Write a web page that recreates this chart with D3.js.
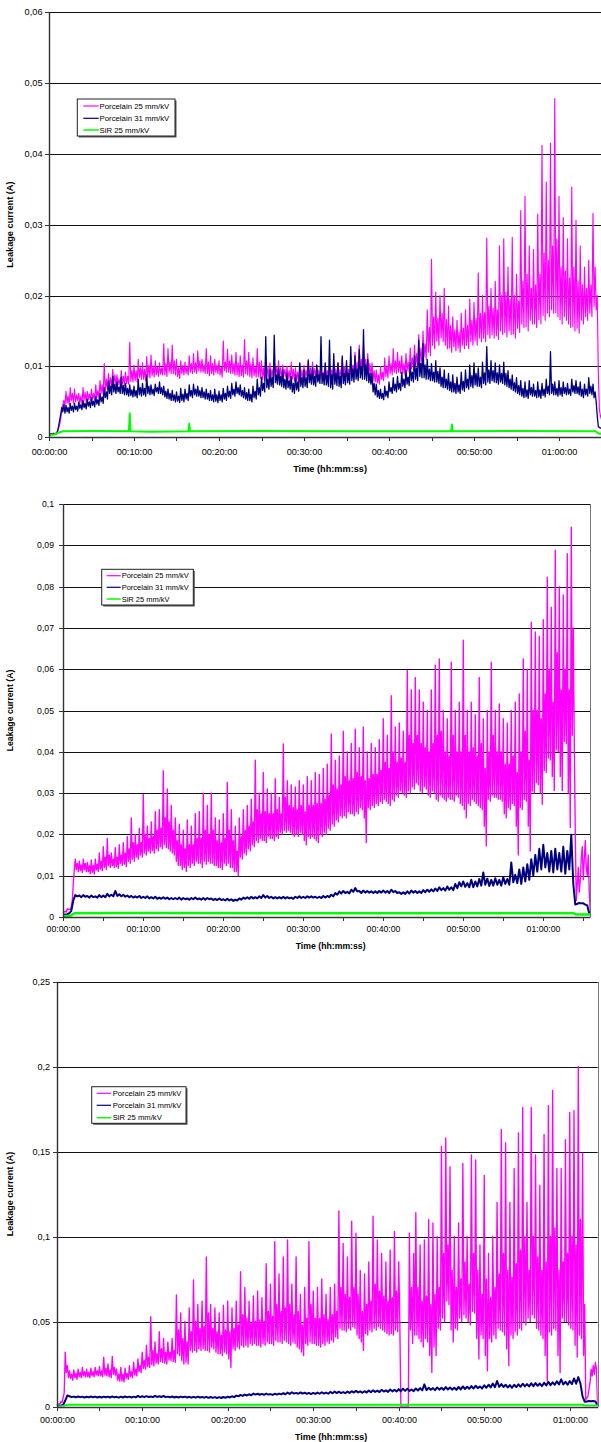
<!DOCTYPE html>
<html>
<head>
<meta charset="utf-8">
<script src="https://cdn.jsdelivr.net/npm/d3@7"></script>
<style>
  body { margin: 0; background: #fff; }
  svg { display: block; font-family: "Liberation Sans", Arial, sans-serif; }
</style>
</head>
<body>
<svg id="chart" width="601" height="1442"></svg>
<script>
// ---------------------------------------------------------------
// Leakage current of three insulators during three test runs.
// Porcelain traces are evenly sampled (values in mA);
// the SiR trace is given as [minute, mA] breakpoints.
// ---------------------------------------------------------------
const seriesNames  = ["Porcelain 25 mm/kV", "Porcelain 31 mm/kV", "SiR 25 mm/kV"];
const seriesColors = ["#ff00ff", "#000080", "#00ff00"];
const fineStep = 0.125;  // minutes between samples (7.5 s)
const coarseStep = 0.25; // minutes between samples (15 s)

const xTickLabels = ["00:00:00", "00:10:00", "00:20:00", "00:30:00", "00:40:00", "00:50:00", "01:00:00"];

const yTicks1  = [0, 0.01, 0.02, 0.03, 0.04, 0.05, 0.06];
const yLabels1 = ["0", "0,01", "0,02", "0,03", "0,04", "0,05", "0,06"];
const yTicks2  = [0, 0.01, 0.02, 0.03, 0.04, 0.05, 0.06, 0.07, 0.08, 0.09, 0.1];
const yLabels2 = ["0", "0,01", "0,02", "0,03", "0,04", "0,05", "0,06", "0,07", "0,08", "0,09", "0,1"];
const yTicks3  = [0, 0.05, 0.1, 0.15, 0.2, 0.25];
const yLabels3 = ["0", "0,05", "0,1", "0,15", "0,2", "0,25"];

// ---- run 1 (7.5 s samples, one line per 2 minutes) ----
const p1Porcelain25 = [
  0.5,0.4,0.5,0.4,0.6,0.5,0.6,0.5, 0.8,1.2,1.8,2.5,3.8,4.6,5.2,4.4,
  6.5,4.8,5.8,4.6,7.0,5.2,6.2,4.8, 6.8,5.0,6.0,5.2,6.2,4.8,5.8,4.7,
  7.0,5.2,6.3,5.0,6.5,5.3,6.1,5.2, 6.8,5.4,6.2,5.2,7.4,5.6,6.6,5.5,
  8.0,6.2,7.4,6.0,10.4,6.5,8.2,6.8, 9.0,7.2,8.4,7.0,9.6,7.6,8.8,7.4,
  8.8,7.4,8.2,7.2,9.4,7.5,8.6,7.3, 9.2,7.6,8.6,7.5,13.4,7.9,9.4,7.8,
  10.2,8.0,9.4,7.8,11.0,8.4,9.8,8.2, 10.5,8.2,9.6,8.0,11.4,8.5,10.2,8.4,
  11.6,8.7,10.0,8.5,10.8,8.8,9.9,8.6, 10.5,8.9,9.8,8.8,13.2,8.8,10.4,8.6,
  12.5,9.2,10.6,9.0,13.0,9.0,10.8,8.8, 11.0,8.6,9.8,8.3,10.8,9.0,10.2,8.8,
  10.6,9.0,10.0,8.8,11.5,9.2,10.4,9.0, 11.8,9.2,10.5,9.0,12.2,9.4,10.8,9.2,
  11.0,9.2,10.2,9.0,12.5,9.0,10.6,8.7, 11.5,9.0,10.4,8.8,11.0,9.2,10.2,9.0,
  10.8,8.8,9.9,8.5,13.6,9.4,10.6,9.2, 12.4,9.2,10.8,9.0,11.6,9.0,10.4,8.8,
  12.0,8.8,10.5,8.6,11.5,8.7,10.2,8.5, 13.8,9.0,10.8,8.8,12.0,8.6,10.4,8.4,
  11.2,8.7,10.0,8.5,12.5,8.5,10.6,8.3, 10.8,8.2,9.8,8.0,11.5,8.4,10.0,8.2,
  10.5,8.4,9.6,8.2,11.0,8.7,9.9,8.5, 10.8,8.5,9.8,8.3,10.2,8.6,9.6,8.4,
  10.0,8.2,9.4,8.0,10.6,8.2,9.6,8.0, 9.8,8.0,9.2,7.8,10.4,8.2,9.5,8.0,
  10.2,8.4,9.5,8.2,11.0,8.5,9.8,8.3, 10.6,8.6,9.7,8.4,10.2,8.4,9.5,8.2,
  9.8,8.2,9.2,8.0,10.4,8.1,9.4,7.9, 10.2,8.3,9.5,8.1,10.8,8.5,9.7,8.3,
  10.5,8.2,9.6,8.0,11.2,8.6,10.0,8.4, 10.2,8.4,9.6,8.2,11.5,8.7,10.2,8.5,
  12.0,9.0,10.6,8.8,13.0,9.2,11.0,9.0, 12.8,9.2,11.0,9.0,11.8,8.8,10.4,8.5,
  10.5,8.0,9.4,7.8,9.5,7.7,8.8,7.5, 10.0,8.2,9.2,8.0,11.2,8.6,10.0,8.4,
  11.5,9.0,10.4,8.8,12.5,9.2,10.8,9.0, 12.0,9.2,10.8,9.0,11.5,9.0,10.4,8.8,
  11.8,9.4,10.6,9.2,12.6,9.7,11.2,9.5, 13.0,10.0,11.8,9.8,14.5,10.4,12.6,10.2,
  15.0,11.4,13.2,11.0,18.0,12.0,15.5,11.5, 25.1,13.0,17.0,12.5,20.5,13.6,16.8,13.0,
  20.0,14.0,17.5,13.5,21.0,13.0,16.6,12.5, 18.5,12.6,15.8,12.0,17.0,12.8,15.2,12.2,
  16.5,12.6,14.8,12.0,17.5,13.0,15.4,12.5, 18.0,13.0,15.8,12.5,19.5,13.5,16.5,13.0,
  19.0,13.6,16.8,13.0,23.2,14.0,17.5,13.5, 20.0,14.0,17.6,13.5,28.1,14.5,18.5,14.0,
  21.0,14.5,18.2,14.0,22.0,14.3,18.0,13.8, 27.0,15.0,20.0,14.5,28.0,14.8,20.5,14.2,
  24.0,15.0,19.5,14.5,28.2,14.6,20.0,14.0, 23.0,15.4,19.2,14.8,32.0,16.0,22.0,15.5,
  34.0,15.6,23.0,15.0,27.0,16.5,21.0,16.0, 26.5,16.0,21.5,15.5,31.5,16.6,23.0,16.0,
  41.2,17.2,26.0,16.5,36.0,17.5,25.0,17.0, 41.5,18.0,27.0,17.5,47.8,17.6,28.0,17.0,
  34.0,16.6,24.0,16.0,31.0,17.0,23.5,16.5, 28.0,16.0,22.5,15.5,35.3,15.6,24.0,15.0,
  30.6,15.4,22.0,14.7,27.0,16.5,21.5,16.0, 24.0,17.0,21.0,16.5,25.0,17.5,21.5,17.0,
  31.6,18.5,24.0,18.0,20.0,9.0,4.0,3.0, 2.5
];
const p1Porcelain31 = [
  0.5,0.4,0.5,0.4,0.5,0.5,0.5,0.5, 0.9,1.5,2.4,3.2,4.2,3.6,4.6,3.4,
  4.5,3.6,4.2,3.4,4.8,3.8,4.4,3.6, 4.8,3.9,4.4,3.7,5.0,4.1,4.6,3.9,
  5.2,4.2,4.8,4.0,5.4,4.4,5.0,4.2, 5.6,4.5,5.1,4.3,5.8,4.7,5.3,4.5,
  6.2,5.0,5.7,4.8,7.0,5.6,6.4,5.4, 8.0,6.2,7.2,6.0,8.6,6.4,7.5,6.2,
  7.8,6.4,7.1,6.2,8.5,6.2,7.3,6.0, 7.6,6.0,6.9,5.8,7.4,5.9,6.7,5.7,
  7.2,5.8,6.6,5.6,8.2,6.0,7.0,5.8, 7.6,6.0,6.9,5.8,8.8,6.2,7.2,6.0,
  7.4,6.1,6.8,5.9,7.5,6.4,7.0,6.2, 7.8,6.2,7.0,6.0,7.2,5.7,6.5,5.5,
  6.8,5.4,6.2,5.2,6.6,5.2,6.0,5.0, 6.4,5.1,5.8,4.9,6.9,5.2,6.1,5.0,
  6.8,5.4,6.2,5.2,7.4,5.8,6.6,5.6, 7.5,6.0,6.8,5.8,7.2,5.8,6.6,5.6,
  7.0,5.6,6.4,5.4,6.8,5.4,6.2,5.2, 6.6,5.2,6.0,5.0,6.8,5.1,6.0,4.9,
  6.5,5.2,6.0,5.0,6.9,5.4,6.2,5.2, 7.2,5.7,6.5,5.5,7.6,6.0,6.8,5.8,
  7.8,6.2,7.0,6.0,7.4,5.8,6.6,5.6, 7.0,5.4,6.3,5.2,6.8,5.2,6.1,5.0,
  7.2,5.6,6.5,5.4,8.2,6.0,7.0,5.8, 8.5,6.6,7.6,6.4,14.2,7.0,8.2,6.8,
  9.5,7.2,8.4,7.0,14.4,7.7,8.8,7.5, 9.8,7.4,8.6,7.2,9.5,7.0,8.2,6.8,
  9.0,7.0,8.0,6.8,8.6,6.4,7.6,6.2, 8.8,6.7,7.8,6.5,10.5,7.2,8.4,7.0,
  9.5,7.2,8.4,7.0,10.8,7.7,8.9,7.5, 9.8,7.4,8.6,7.2,10.2,7.8,8.8,7.6,
  14.2,7.6,9.0,7.4,10.5,7.4,8.7,7.2, 13.7,7.0,8.8,6.8,11.8,7.5,9.0,7.3,
  10.5,7.2,8.6,7.0,11.5,7.6,9.0,7.4, 10.8,7.7,9.0,7.5,12.8,8.0,9.6,7.8,
  11.5,8.2,9.6,8.0,12.4,8.4,10.0,8.2, 15.2,8.2,10.2,8.0,11.0,7.7,9.0,7.5,
  9.0,6.4,7.6,6.0,7.5,5.7,6.6,5.5, 6.8,5.5,6.2,5.3,7.2,5.8,6.5,5.6,
  7.8,6.4,7.0,6.2,8.4,6.6,7.5,6.4, 8.6,6.8,7.6,6.6,9.2,7.2,8.2,7.0,
  9.5,7.5,8.5,7.3,10.5,8.0,9.2,7.8, 11.5,8.2,9.8,8.0,13.7,8.6,10.4,8.4,
  13.2,8.4,10.2,8.2,11.0,8.2,9.6,8.0, 10.4,8.0,9.2,7.8,10.8,7.8,9.3,7.6,
  9.8,7.2,8.5,7.0,9.5,7.0,8.2,6.8, 9.0,6.6,7.8,6.4,8.8,6.4,7.6,6.2,
  8.5,6.4,7.4,6.2,9.2,6.7,7.9,6.5, 9.5,7.0,8.2,6.8,10.2,7.2,8.7,7.0,
  10.5,7.4,9.0,7.2,9.8,7.2,8.5,7.0, 10.6,7.6,9.1,7.4,12.8,7.8,9.5,7.6,
  10.8,8.0,9.4,7.8,10.5,7.7,9.1,7.5, 10.2,7.8,9.0,7.6,10.6,7.4,9.0,7.2,
  9.4,7.0,8.2,6.8,8.8,6.6,7.7,6.4, 8.4,6.2,7.3,6.0,8.0,5.8,6.9,5.6,
  7.8,5.7,6.7,5.5,8.0,6.0,7.0,5.8, 7.5,5.8,6.6,5.6,7.8,5.7,6.7,5.5,
  7.6,5.9,6.8,5.7,8.2,6.2,7.2,6.0, 12.1,6.2,7.5,6.0,7.8,6.0,6.9,5.8,
  8.0,6.0,7.0,5.8,7.8,6.2,7.0,6.0, 7.6,6.1,6.8,5.9,8.2,6.4,7.3,6.2,
  8.0,6.2,7.1,6.0,7.8,5.8,6.8,5.6, 7.5,6.0,6.8,5.8,8.4,6.2,7.2,6.0,
  7.5,5.6,6.4,5.0,3.0,1.5,1.4,1.3, 1.3
];
const p1SiR25 = [
  [0,0.3],[0.6,0.4],[1.2,0.7],[1.7,0.85],[5,0.9],[9.4,0.85],[9.5,3.4],[9.6,0.85],[12,0.8],
  [16.4,0.85],[16.5,1.9],[16.6,0.85],[25,0.9],[35,0.85],[47.3,0.85],[47.4,1.8],[47.5,0.85],
  [55,0.9],[64.3,0.85],[64.7,0.5],[65.3,0.5]
];

// ---- run 2 ----
const p2Porcelain25 = [
  1.5,1.2,1.4,1.2,2.0,1.8,1.9,1.8, 2.5,4.0,8.0,11.5,14.0,11.5,13.0,11.0,
  13.5,11.2,12.6,10.8,14.0,11.5,13.0,11.0, 13.2,11.0,12.4,10.5,13.8,10.8,12.5,10.4,
  14.0,11.4,12.8,11.0,15.5,11.6,13.5,11.2, 17.0,12.0,14.5,11.5,19.0,12.5,15.0,12.0,
  15.5,12.4,14.0,12.0,16.8,12.2,14.5,11.8, 17.5,13.0,15.0,12.5,18.0,12.8,15.5,12.2,
  19.5,13.5,16.5,13.0,24.0,14.0,18.0,13.5, 20.0,14.5,17.5,14.0,21.5,15.0,18.0,14.5,
  29.7,15.5,20.0,15.0,22.0,16.0,19.0,15.5, 23.0,16.0,19.5,15.5,25.5,16.5,21.0,16.0,
  26.0,17.0,21.5,16.5,35.4,17.5,24.0,16.8, 31.0,16.5,23.0,16.0,27.0,15.5,21.0,15.0,
  24.0,13.5,18.5,12.5,22.5,12.5,17.5,11.5, 21.0,12.0,16.5,11.0,23.5,12.5,17.5,12.0,
  22.0,13.0,17.5,12.5,25.0,13.5,19.0,13.0, 25.5,13.0,19.0,12.0,30.0,13.5,21.0,12.8,
  27.0,13.5,20.0,13.0,30.0,13.0,21.0,12.5, 24.0,12.5,18.5,12.0,23.5,12.0,18.0,11.5,
  25.0,13.0,19.0,12.5,32.6,13.0,21.0,12.0, 26.0,12.0,18.5,11.0,22.0,11.0,16.0,10.0,
  24.0,14.5,19.5,14.0,26.0,15.5,21.0,15.0, 27.0,16.5,22.0,16.0,28.5,17.5,23.0,17.0,
  38.0,18.5,26.0,18.0,30.0,19.0,25.0,18.5, 35.0,18.5,25.5,18.0,31.0,19.5,25.0,19.0,
  30.0,19.0,25.0,18.5,33.5,19.5,26.0,19.0, 29.0,20.5,25.0,20.0,41.9,21.0,29.0,20.5,
  33.0,21.0,27.0,20.5,32.0,20.0,26.5,19.5, 31.5,20.0,26.0,19.5,33.0,20.5,27.0,20.0,
  32.0,18.5,25.5,17.5,34.0,19.5,27.0,19.0, 33.0,19.5,27.0,19.0,35.0,18.5,27.5,18.0,
  34.5,20.0,27.5,19.5,36.0,20.5,28.5,20.0, 37.0,21.5,29.5,21.0,44.3,22.5,32.0,22.0,
  38.0,23.5,31.0,23.0,39.0,24.5,32.0,24.0, 45.0,24.5,34.0,24.0,40.0,25.5,33.0,25.0,
  42.0,25.0,33.5,24.5,45.5,25.5,35.0,25.0, 41.0,26.5,34.0,26.0,46.0,24.0,33.0,18.0,
  40.0,26.5,33.5,26.0,42.0,27.0,34.5,26.5, 41.0,27.5,34.5,27.0,43.0,28.0,35.5,27.5,
  48.0,28.5,37.5,28.0,44.0,27.5,36.0,27.0, 53.6,28.5,40.0,28.0,46.0,29.5,37.5,29.0,
  47.0,30.5,38.5,30.0,45.0,29.5,37.5,29.0, 59.7,30.5,44.0,30.0,55.0,31.5,42.0,31.0,
  58.0,32.5,44.0,32.0,55.0,30.5,42.0,30.0, 52.0,31.5,41.0,31.0,50.0,29.5,40.0,29.0,
  55.0,30.5,42.0,30.0,61.0,28.5,44.0,28.0, 62.5,29.5,45.0,29.0,50.0,28.5,40.0,28.0,
  48.0,29.0,39.0,28.5,61.7,28.5,44.0,28.0, 50.0,29.5,40.0,29.0,52.0,27.5,40.0,27.0,
  67.0,26.0,44.0,24.0,50.0,27.5,40.0,27.0, 52.0,28.5,41.0,28.0,49.0,27.5,39.0,27.0,
  58.0,26.5,42.0,26.0,48.0,22.0,36.0,17.2, 50.0,28.5,40.0,28.0,61.7,29.5,44.0,29.0,
  50.0,29.0,40.0,28.5,51.6,28.5,40.0,28.0, 48.0,25.0,37.0,24.0,47.0,26.5,37.0,26.0,
  50.0,27.5,39.0,27.0,52.0,22.0,35.0,15.0, 54.0,26.5,40.0,26.0,62.5,28.5,45.0,28.0,
  60.0,22.0,38.0,16.0,71.4,30.5,50.0,30.0, 69.0,32.5,50.0,32.0,68.0,30.0,48.0,27.3,
  72.0,35.5,54.0,35.0,82.3,38.5,60.0,38.0, 75.0,34.0,52.0,30.6,88.8,40.5,64.0,40.0,
  80.0,34.0,55.0,30.6,78.0,42.5,60.0,42.0, 88.0,30.0,55.0,21.7,94.4,44.0,70.0,42.0,
  20.0,4.0,8.0,12.0,6.0,9.0,14.0,17.0, 9.0,14.0,18.5,12.0,10.0,15.0,6.0,1.0
];
const p2Porcelain31 = [
  0.5,0.6,0.7,0.9, 1.5,4.0,5.3,5.0, 5.2,4.8,5.3,4.9, 5.1,4.7,5.2,4.8, 5.0,4.7,5.3,4.8,
  5.2,4.8,5.6,5.0, 5.4,5.0,6.3,5.1, 5.5,5.0,5.4,4.9, 5.2,4.8,5.1,4.7, 5.0,4.7,5.1,4.6,
  4.9,4.6,5.0,4.5, 4.8,4.5,4.9,4.4, 4.7,4.4,4.8,4.4, 4.7,4.3,4.6,4.3, 4.6,4.3,4.7,4.2,
  4.6,4.3,4.5,4.2, 4.6,4.3,4.7,4.3, 4.5,4.2,4.6,4.2, 4.6,4.3,4.5,4.1, 4.4,4.1,4.5,4.1,
  4.3,4.0,4.4,4.0, 4.3,3.9,4.2,4.0, 4.5,4.2,4.7,4.4, 4.8,4.4,4.9,4.5, 4.8,4.5,5.0,4.6,
  5.3,4.7,5.1,4.6, 4.9,4.5,4.8,4.5, 4.8,4.5,4.9,4.5, 4.8,4.5,4.7,4.4, 4.9,4.6,5.0,4.6,
  4.9,4.6,5.0,4.7, 5.0,4.7,4.9,4.6, 4.9,4.6,5.1,4.7, 5.1,4.8,5.4,5.0, 5.8,5.4,6.2,5.7,
  6.3,5.8,6.1,5.7, 6.6,6.1,7.0,6.2, 6.3,5.8,6.4,5.9, 6.3,5.9,6.2,5.8, 6.2,5.8,6.3,5.9,
  6.4,5.9,6.3,5.8, 6.6,6.0,6.3,5.8, 6.0,5.6,6.0,5.6, 6.2,5.7,6.4,5.9, 6.3,5.8,6.2,5.8,
  6.5,6.0,6.6,6.1, 6.7,6.2,6.9,6.3, 7.2,6.5,7.0,6.4, 7.4,6.6,7.2,6.5, 8.0,7.0,8.4,7.4,
  8.6,7.3,8.2,7.2, 9.0,7.2,8.6,7.4, 9.2,7.6,10.8,7.8, 9.3,7.5,9.0,7.6, 9.4,7.8,9.0,7.6,
  9.6,8.0,9.2,7.8, 13.2,8.4,10.2,8.2, 11.5,8.0,12.0,8.6, 12.8,9.0,14.0,10.0, 15.0,11.0,16.5,11.5,
  17.5,12.0,15.5,11.0, 16.0,10.8,16.5,11.5, 15.5,11.0,17.0,10.5, 16.0,11.5,19.9,8.0, 3.0,3.2,3.4,3.3,
  3.3,3.0,2.8,0.8
];
const p2SiR25 = [
  [0,0.2],[0.9,0.3],[1.4,0.9],[10,0.95],[30,0.9],[50,0.9],[63.8,0.9],[64.1,0.6],[66,0.6]
];

// ---- run 3 ----
const p3Porcelain25 = [
  1.0,1.2,1.5,1.5,3.0,2.5,5.0,8.0, 32.0,20.0,24.0,17.0,21.0,16.5,19.0,15.5,
  21.5,17.0,19.5,16.0,22.0,17.5,20.0,17.0, 23.0,18.0,20.5,17.5,22.0,17.5,20.0,17.0,
  22.5,18.0,20.5,17.5,23.0,18.5,21.0,18.0, 23.5,18.0,21.0,17.5,29.0,18.5,22.5,18.0,
  25.0,17.5,21.5,17.0,29.5,19.0,23.0,18.5, 22.0,15.5,19.0,15.0,23.0,15.0,19.0,14.5,
  22.5,16.5,19.5,16.0,24.0,17.5,20.5,17.0, 26.0,18.5,22.0,18.0,28.0,20.5,24.0,20.0,
  32.0,22.5,27.0,22.0,36.0,23.5,29.0,23.0, 52.8,24.5,33.0,24.0,38.0,25.5,31.0,25.0,
  44.0,26.5,34.0,26.0,40.0,25.5,32.0,25.0, 38.0,27.5,32.0,27.0,40.0,26.5,33.0,26.0,
  65.6,31.0,45.0,30.0,55.0,27.0,40.0,25.0, 50.0,26.0,38.0,25.0,58.0,33.0,44.0,32.0,
  74.4,33.0,50.0,32.0,60.0,34.0,46.0,33.0, 62.0,34.0,47.0,33.0,88.0,33.0,55.0,32.0,
  60.0,35.0,46.0,34.0,58.0,32.0,44.0,31.0, 55.0,31.0,42.0,30.0,59.6,32.0,45.0,31.0,
  62.0,28.0,44.0,23.0,58.0,34.0,46.0,33.0, 62.0,35.0,48.0,34.0,79.3,36.0,54.0,35.0,
  70.0,36.0,52.0,35.0,62.0,37.0,49.0,36.0, 65.0,37.0,50.0,36.0,68.0,36.0,51.0,35.0,
  64.0,37.0,50.0,36.0,84.0,38.0,56.0,37.0, 72.0,37.0,53.0,36.0,97.0,39.0,60.0,38.0,
  78.0,38.0,56.0,37.0,88.0,39.0,58.0,38.0, 98.0,37.0,60.0,36.0,72.0,38.0,54.0,37.0,
  88.0,35.0,56.0,34.0,66.0,32.0,48.0,30.0, 70.0,37.0,52.0,36.0,97.0,38.0,60.0,37.0,
  68.0,37.0,52.0,36.0,70.0,36.0,52.0,35.0, 75.0,37.0,54.0,36.0,66.0,38.0,51.0,37.0,
  70.0,39.0,54.0,38.0,72.0,41.0,56.0,40.0, 115.0,46.0,70.0,45.0,96.0,45.0,66.0,44.0,
  88.0,46.0,64.0,45.0,109.0,47.0,70.0,46.0, 102.0,42.0,66.0,40.0,80.0,38.0,56.0,33.0,
  78.0,43.0,60.0,42.0,85.0,45.0,62.0,44.0, 112.0,46.0,72.0,45.0,98.0,47.0,68.0,46.0,
  90.0,45.0,65.0,44.0,85.0,43.0,62.0,42.0, 92.0,43.0,64.0,42.0,103.0,45.0,68.0,44.0,
  85.0,50.0,0.0,0.0,0.0,0.0,0.0,0.0, 0.0,0.0,102.0,45.0,70.0,37.0,90.0,42.0,
  114.0,42.0,70.0,40.0,95.0,38.0,62.0,35.0, 98.0,40.0,65.0,38.0,110.0,30.0,60.0,20.0,
  108.0,35.0,66.0,30.0,100.0,46.0,70.0,45.0, 153.0,52.0,90.0,50.0,158.0,62.0,95.0,60.0,
  141.0,45.0,80.0,38.0,100.0,46.0,70.0,45.0, 108.0,52.0,75.0,50.0,143.0,54.0,85.0,52.0,
  100.0,50.0,72.0,48.0,148.0,56.0,90.0,55.0, 145.0,40.0,80.0,28.0,95.0,42.0,66.0,40.0,
  136.0,30.0,75.0,21.0,90.0,40.0,64.0,38.0, 100.0,42.0,70.0,40.0,120.0,46.0,78.0,45.0,
  163.0,44.0,90.0,42.0,155.0,34.0,80.0,24.0, 120.0,42.0,76.0,40.0,140.0,44.0,84.0,42.0,
  161.0,46.0,92.0,45.0,176.0,50.0,100.0,48.0, 120.0,52.0,80.0,50.0,176.0,54.0,100.0,52.0,
  148.0,46.0,88.0,45.0,130.0,42.0,80.0,40.0, 160.0,30.0,85.0,15.0,177.0,44.0,100.0,42.0,
  186.0,46.0,105.0,45.0,140.0,30.0,80.0,20.0, 140.0,52.0,85.0,50.0,157.0,50.0,90.0,48.0,
  173.0,46.0,100.0,45.0,174.0,36.0,95.0,29.0, 200.0,42.0,110.0,40.0,149.0,30.0,60.0,4.0,
  5.0,6.0,10.0,14.0,22.0,18.0,24.0,19.0, 26.0,22.0,1.5
];
const p3Porcelain31 = [
  0.5,0.5,0.6,0.9, 3.5,6.5,6.0,5.5, 5.8,5.4,5.9,5.5, 5.8,5.3,5.7,5.4, 5.9,5.4,5.8,5.3,
  5.7,5.3,5.8,5.4, 5.8,5.3,5.9,5.4, 5.7,5.2,5.8,5.3, 5.9,5.4,5.8,5.3, 5.8,5.4,6.2,5.5,
  6.0,5.5,6.1,5.6, 5.9,5.5,6.3,5.6, 6.0,5.6,6.2,5.5, 5.8,5.4,5.9,5.3, 5.7,5.3,5.8,5.4,
  5.8,5.3,5.7,5.2, 5.7,5.2,5.8,5.3, 5.6,5.2,5.7,5.1, 5.6,5.1,5.5,5.0, 5.5,5.0,5.6,5.1,
  5.8,5.3,6.0,5.5, 6.4,6.0,6.8,6.2, 7.0,6.5,7.2,6.6, 7.6,7.0,7.5,6.9, 7.4,6.9,7.6,7.0,
  7.3,6.8,7.5,7.0, 7.6,7.1,7.8,7.2, 8.2,7.4,8.4,7.6, 8.0,7.5,8.3,7.6, 8.1,7.4,8.0,7.3,
  8.0,7.4,8.2,7.5, 8.4,7.6,8.2,7.5, 8.6,7.8,8.8,7.9, 8.7,7.9,8.5,7.8, 8.8,8.0,9.0,8.2,
  9.2,8.3,8.9,8.1, 9.0,8.2,9.4,8.4, 9.6,8.6,9.3,8.5, 9.8,8.8,9.5,8.6, 10.0,8.9,9.8,8.8,
  10.2,9.0,10.5,9.2, 10.4,9.2,10.0,9.0, 10.6,9.4,10.8,9.5, 13.0,9.6,11.0,9.8, 10.8,9.6,11.2,9.9,
  11.0,9.8,11.4,10.0, 11.2,9.9,11.0,9.8, 11.5,10.0,11.8,10.3, 11.6,10.4,12.0,10.6, 12.2,10.8,11.8,10.6,
  12.4,11.0,12.8,11.2, 13.5,11.4,15.0,11.6, 13.2,11.5,12.8,11.2, 12.6,11.0,12.8,11.4, 13.0,11.6,13.4,11.8,
  13.2,11.8,13.6,12.0, 13.8,12.2,13.5,12.0, 14.0,12.4,14.5,12.6, 14.2,12.8,14.8,13.0, 16.0,13.0,14.5,12.8,
  15.0,13.2,16.5,13.4, 17.3,13.5,6.0,2.8, 3.0,3.2,3.1,3.2, 3.0,0.5
];
const p3SiR25 = [
  [0,0.2],[0.8,0.3],[1.3,1.0],[20,1.0],[40,1.05],[61.5,1.0],[61.7,0.6],[63.4,0.6]
];

// ---------------------------------------------------------------
// Layout of the three stacked charts (pixels)
// ---------------------------------------------------------------
const panels = [
  { left: 49, right: 603.2, top: 12, bottom: 437.3, tMax: 65.2, yMax: 0.06,
    yTicks: yTicks1, yLabels: yLabels1, font: 9.2, legendFont: 7.8,
    yLabelPad: 2.5, xLabelPad: 7.6, xTitleY: 471.5, yTitleX: 13, frame: false,
    legend: { x: 77.3, y: 99, w: 97.7, h: 37, rows: [7, 19.3, 31], lineX: 83.3, lineW: 15.4, textX: 99.5 },
    data: [p1Porcelain25, p1Porcelain31, p1SiR25], steps: [fineStep, fineStep], widths: [1.15, 1.3, 2] },
  { left: 63.3, right: 590, top: 504, bottom: 917, tMax: 65.84, yMax: 0.1,
    yTicks: yTicks2, yLabels: yLabels2, font: 8.7, legendFont: 7.5,
    yLabelPad: 5, xLabelPad: 5.3, xTitleY: 948.5, yTitleX: 13, frame: true,
    legend: { x: 101.7, y: 569.3, w: 91.6, h: 35.7, rows: [6.4, 18, 29.7], lineX: 106.7, lineW: 14, textX: 121.7 },
    data: [p2Porcelain25, p2Porcelain31, p2SiR25], steps: [fineStep, coarseStep], widths: [1.35, 2, 2.5] },
  { left: 56.7, right: 597.7, top: 981.5, bottom: 1406.5, tMax: 63.27, yMax: 0.25,
    yTicks: yTicks3, yLabels: yLabels3, font: 9, legendFont: 7.7,
    yLabelPad: 3, xLabelPad: 5.8, xTitleY: 1439.5, yTitleX: 13, frame: true,
    legend: { x: 91.7, y: 1086.7, w: 94.3, h: 36.6, rows: [6.6, 18.6, 31], lineX: 96.7, lineW: 14.3, textX: 112.7 },
    data: [p3Porcelain25, p3Porcelain31, p3SiR25], steps: [fineStep, coarseStep], widths: [1.35, 2, 2] }
];

// sampled trace -> points in minutes / amperes
function sampled(values, step) { return values.map((v, i) => ({ t: i * step, a: v / 1000 })); }
function breakpoints(pairs) { return pairs.map(([t, v]) => ({ t: t, a: v / 1000 })); }

const svg = d3.select("#chart");
const defs = svg.append("defs");

panels.forEach((p, k) => {
  const x = d3.scaleLinear().domain([0, p.tMax]).range([p.left, p.right]);
  const y = d3.scaleLinear().domain([0, p.yMax]).range([p.bottom, p.top]);
  const yR = y.copy().interpolate(d3.interpolateRound);
  const xR = x.copy().interpolate(d3.interpolateRound);

  const g = svg.append("g").style("font-size", p.font + "px");

  // horizontal gridlines
  g.append("g").selectAll("line").data(p.yTicks.slice(1)).join("line")
    .attr("x1", p.left).attr("x2", p.right)
    .attr("y1", d => yR(d) + 0.5).attr("y2", d => yR(d) + 0.5)
    .attr("stroke", "#111").attr("stroke-width", 1);

  if (p.frame) {
    g.append("line")
      .attr("x1", Math.round(p.right) + 0.5).attr("x2", Math.round(p.right) + 0.5)
      .attr("y1", yR(p.yMax)).attr("y2", yR(0))
      .attr("stroke", "#777").attr("stroke-width", 1);
  }

  // traces
  const clipId = "plot-clip-" + k;
  defs.append("clipPath").attr("id", clipId).append("rect")
    .attr("x", p.left).attr("y", p.top - 2)
    .attr("width", p.right - p.left).attr("height", p.bottom - p.top + 2);

  const line = d3.line().x(d => x(d.t)).y(d => y(d.a));
  const traces = [sampled(p.data[0], p.steps[0]), sampled(p.data[1], p.steps[1]), breakpoints(p.data[2])];
  const plot = g.append("g").attr("clip-path", `url(#${clipId})`);
  traces.forEach((pts, i) => {
    plot.append("path").datum(pts)
      .attr("d", line)
      .attr("fill", "none")
      .attr("stroke", seriesColors[i])
      .attr("stroke-width", p.widths[i])
      .attr("stroke-linejoin", "round");
  });

  // y axis
  const yAxis = d3.axisLeft(yR)
    .tickValues(p.yTicks)
    .tickFormat((d, i) => p.yLabels[i])
    .tickSize(4).tickSizeOuter(0).tickPadding(p.yLabelPad);
  const ga = g.append("g").attr("transform", `translate(${Math.round(p.left)},0)`).call(yAxis);
  ga.select(".domain").attr("stroke", "#333").attr("stroke-width", 1.4);
  ga.selectAll(".tick line").attr("stroke", "#333");
  ga.selectAll("text").attr("fill", "#000").style("font-family", "inherit").style("font-size", p.font + "px");

  // x axis: tick every 5 minutes, label every 10 minutes
  const minuteTicks = d3.range(0, p.tMax + 0.01, 5);
  const xAxis = d3.axisBottom(xR)
    .tickValues(minuteTicks)
    .tickFormat(d => (d % 10 === 0 ? xTickLabels[d / 10] : ""))
    .tickSize(4).tickSizeOuter(0).tickPadding(p.xLabelPad);
  const gx = g.append("g").attr("transform", `translate(0,${Math.round(p.bottom)})`).call(xAxis);
  gx.select(".domain").attr("stroke", "#333").attr("stroke-width", 1.4);
  gx.selectAll(".tick line").attr("stroke", "#333");
  gx.selectAll("text").attr("fill", "#000").style("font-family", "inherit").style("font-size", p.font + "px");

  // axis titles
  g.append("text")
    .attr("x", (p.left + p.right) / 2 + 4).attr("y", p.xTitleY)
    .attr("text-anchor", "middle").attr("font-weight", "bold")
    .style("font-size", p.font + "px")
    .text("Time (hh:mm:ss)");
  g.append("text")
    .attr("transform", `translate(${p.yTitleX},${(p.top + p.bottom) / 2}) rotate(-90)`)
    .attr("text-anchor", "middle").attr("font-weight", "bold")
    .style("font-size", p.font + "px")
    .text("Leakage current (A)");

  // legend
  const L = p.legend;
  const lg = g.append("g");
  lg.append("rect").attr("x", L.x + 1.5).attr("y", L.y + 1.5).attr("width", L.w).attr("height", L.h)
    .attr("fill", "#555");
  lg.append("rect").attr("x", L.x).attr("y", L.y).attr("width", L.w).attr("height", L.h)
    .attr("fill", "#fff").attr("stroke", "#222").attr("stroke-width", 1);
  seriesNames.forEach((name, i) => {
    const ry = L.y + L.rows[i];
    lg.append("line").attr("x1", L.lineX).attr("x2", L.lineX + L.lineW)
      .attr("y1", ry).attr("y2", ry)
      .attr("stroke", seriesColors[i]).attr("stroke-width", i === 2 ? 1.5 : 1.2);
    lg.append("text").attr("x", L.textX).attr("y", ry).attr("dy", "0.35em")
      .style("font-size", p.legendFont + "px").attr("fill", "#000")
      .text(name);
  });
});
</script>
</body>
</html>
